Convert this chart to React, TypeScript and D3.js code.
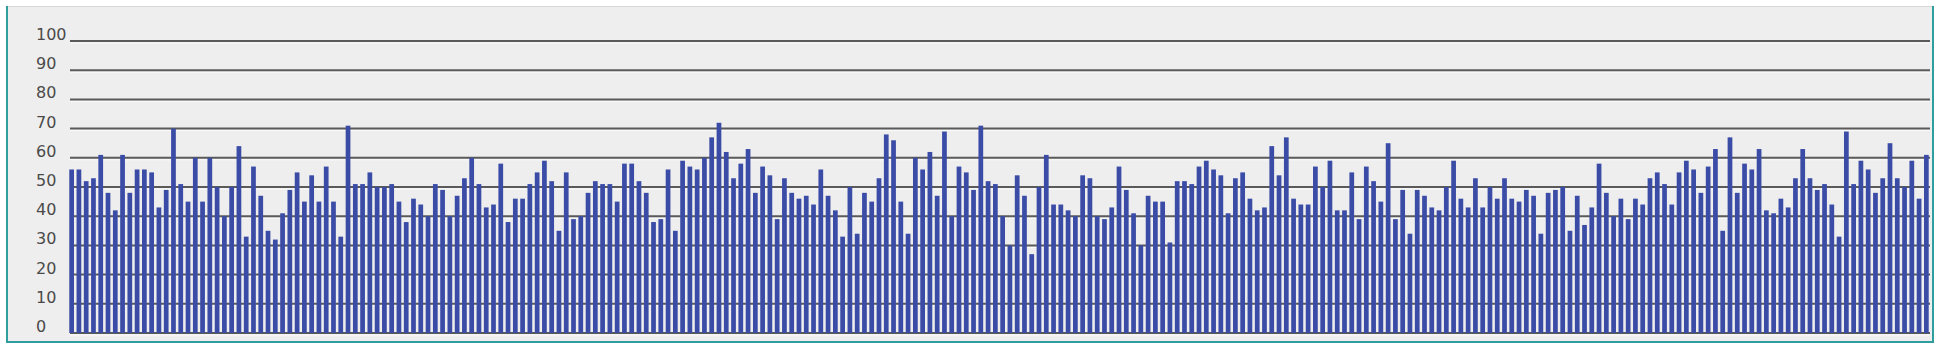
import { useEffect, useRef } from "react";
import * as d3 from "d3";

// y axis tick labels
const yTicks = [0, 10, 20, 30, 40, 50, 60, 70, 80, 90, 100];

// bar values, read left to right in chunks
const values1 = [56, 56, 52, 53, 61, 48, 42, 61, 48, 56, 56, 55, 43, 49, 70, 51, 45, 60, 45, 60, 50, 40];
const values2 = [50, 64, 33, 57, 47, 35, 32, 41, 49, 55, 45, 54, 45, 57, 45, 33, 71, 51, 51, 55, 50, 50, 51];
const values3 = [45, 38, 46, 44, 40, 51, 49, 40, 47, 53, 60, 51, 43, 44, 58, 38, 46, 46, 51, 55, 59, 52, 35];
const values4 = [55, 39, 40, 48, 52, 51, 51, 45, 58, 58, 52, 48, 38, 39, 56, 35, 59, 57, 56, 60, 67, 72, 62, 53];
const values5 = [58, 63, 48, 57, 54, 39, 53, 48, 46, 47, 44, 56, 47, 42, 33, 50, 34, 48, 45, 53, 68, 66, 45];
const values6 = [34, 60, 56, 62, 47, 69, 40, 57, 55, 49, 71, 52, 51, 40, 30, 54, 47, 27, 50, 61, 44, 44, 42];
const values7 = [40, 54, 53, 40, 39, 43, 57, 49, 41, 30, 47, 45, 45, 31, 52, 52, 51, 57, 59, 56, 54, 41, 53, 55];
const values8 = [46, 42, 43, 64, 54, 67, 46, 44, 44, 57, 50, 59, 42, 42, 55, 39, 57, 52, 45, 65, 39, 49, 34];
const values9 = [49, 47, 43, 42, 50, 59, 46, 43, 53, 43, 50, 46, 53, 46, 45, 49, 47, 34, 48, 49, 50, 35, 47];
const values10 = [37, 43, 58, 48, 40, 46, 39, 46, 44, 53, 55, 51, 44, 55, 59, 56, 48, 57, 63, 35, 67, 48, 58, 56];
const values11 = [63, 42, 41, 46, 43, 53, 63, 53, 49, 51, 44, 33, 69, 51, 59, 56, 48, 53, 65, 53, 50, 59, 46, 61];

const values = [
  ...values1, ...values2, ...values3, ...values4, ...values5, ...values6,
  ...values7, ...values8, ...values9, ...values10, ...values11,
];
const categories = values.map((_, i) => `#${i + 1}`);

const WIDTH = 1940;
const HEIGHT = 349;

export default function App() {
  const ref = useRef<SVGSVGElement>(null);

  useEffect(() => {
    if (!ref.current) return;
    const svg = d3.select(ref.current);
    svg.selectAll("*").remove();

    svg.append("rect").attr("width", WIDTH).attr("height", HEIGHT).attr("fill", "#ffffff");

    // panel
    svg.append("rect")
      .attr("x", 6).attr("y", 6).attr("width", 1928).attr("height", 337)
      .attr("fill", "#eeeeee");
    svg.append("line")
      .attr("x1", 6).attr("x2", 1934).attr("y1", 6.5).attr("y2", 6.5)
      .attr("stroke", "#d6d6d6").attr("stroke-width", 1);
    const teal = "#2f9e9e";
    svg.append("path")
      .attr("d", "M7,6 V342 H1933 V6")
      .attr("fill", "none").attr("stroke", teal).attr("stroke-width", 2);

    const x = d3.scaleBand<string>()
      .domain(categories)
      .range([68, 1930])
      .paddingInner(0.35)
      .paddingOuter(0.175);

    const y = d3.scaleLinear().domain([0, 100]).range([333, 41]);

    // gridlines
    const grid = svg.append("g");
    grid.selectAll("line.shade")
      .data(yTicks)
      .enter()
      .append("line")
      .attr("class", "shade")
      .attr("x1", 70).attr("x2", 1930)
      .attr("y1", (d) => y(d) + 2).attr("y2", (d) => y(d) + 2)
      .attr("stroke", "#fbfbfb").attr("stroke-width", 1);
    grid.selectAll("line.main")
      .data(yTicks)
      .enter()
      .append("line")
      .attr("class", "main")
      .attr("x1", 70).attr("x2", 1930)
      .attr("y1", (d) => y(d)).attr("y2", (d) => y(d))
      .attr("stroke", "#5a5a5a").attr("stroke-width", 2);

    // tick labels
    svg.append("g")
      .selectAll("text")
      .data(yTicks)
      .enter()
      .append("text")
      .attr("x", 36)
      .attr("y", (d) => y(d) - 1)
      .attr("font-family", "DejaVu Sans, Verdana, sans-serif")
      .attr("font-size", 16)
      .attr("fill", "#4a4a4a")
      .text((d) => String(d));

    // bars
    svg.append("g")
      .selectAll("rect")
      .data(values)
      .enter()
      .append("rect")
      .attr("x", (_, i) => x(categories[i]) ?? 0)
      .attr("y", (d) => y(d))
      .attr("width", x.bandwidth())
      .attr("height", (d) => y(0) - y(d))
      .attr("fill", "#3b4ca7");
  }, []);

  return (
    <svg
      ref={ref}
      width={WIDTH}
      height={HEIGHT}
      style={{ position: "absolute", left: 0, top: 0, display: "block" }}
    />
  );
}
